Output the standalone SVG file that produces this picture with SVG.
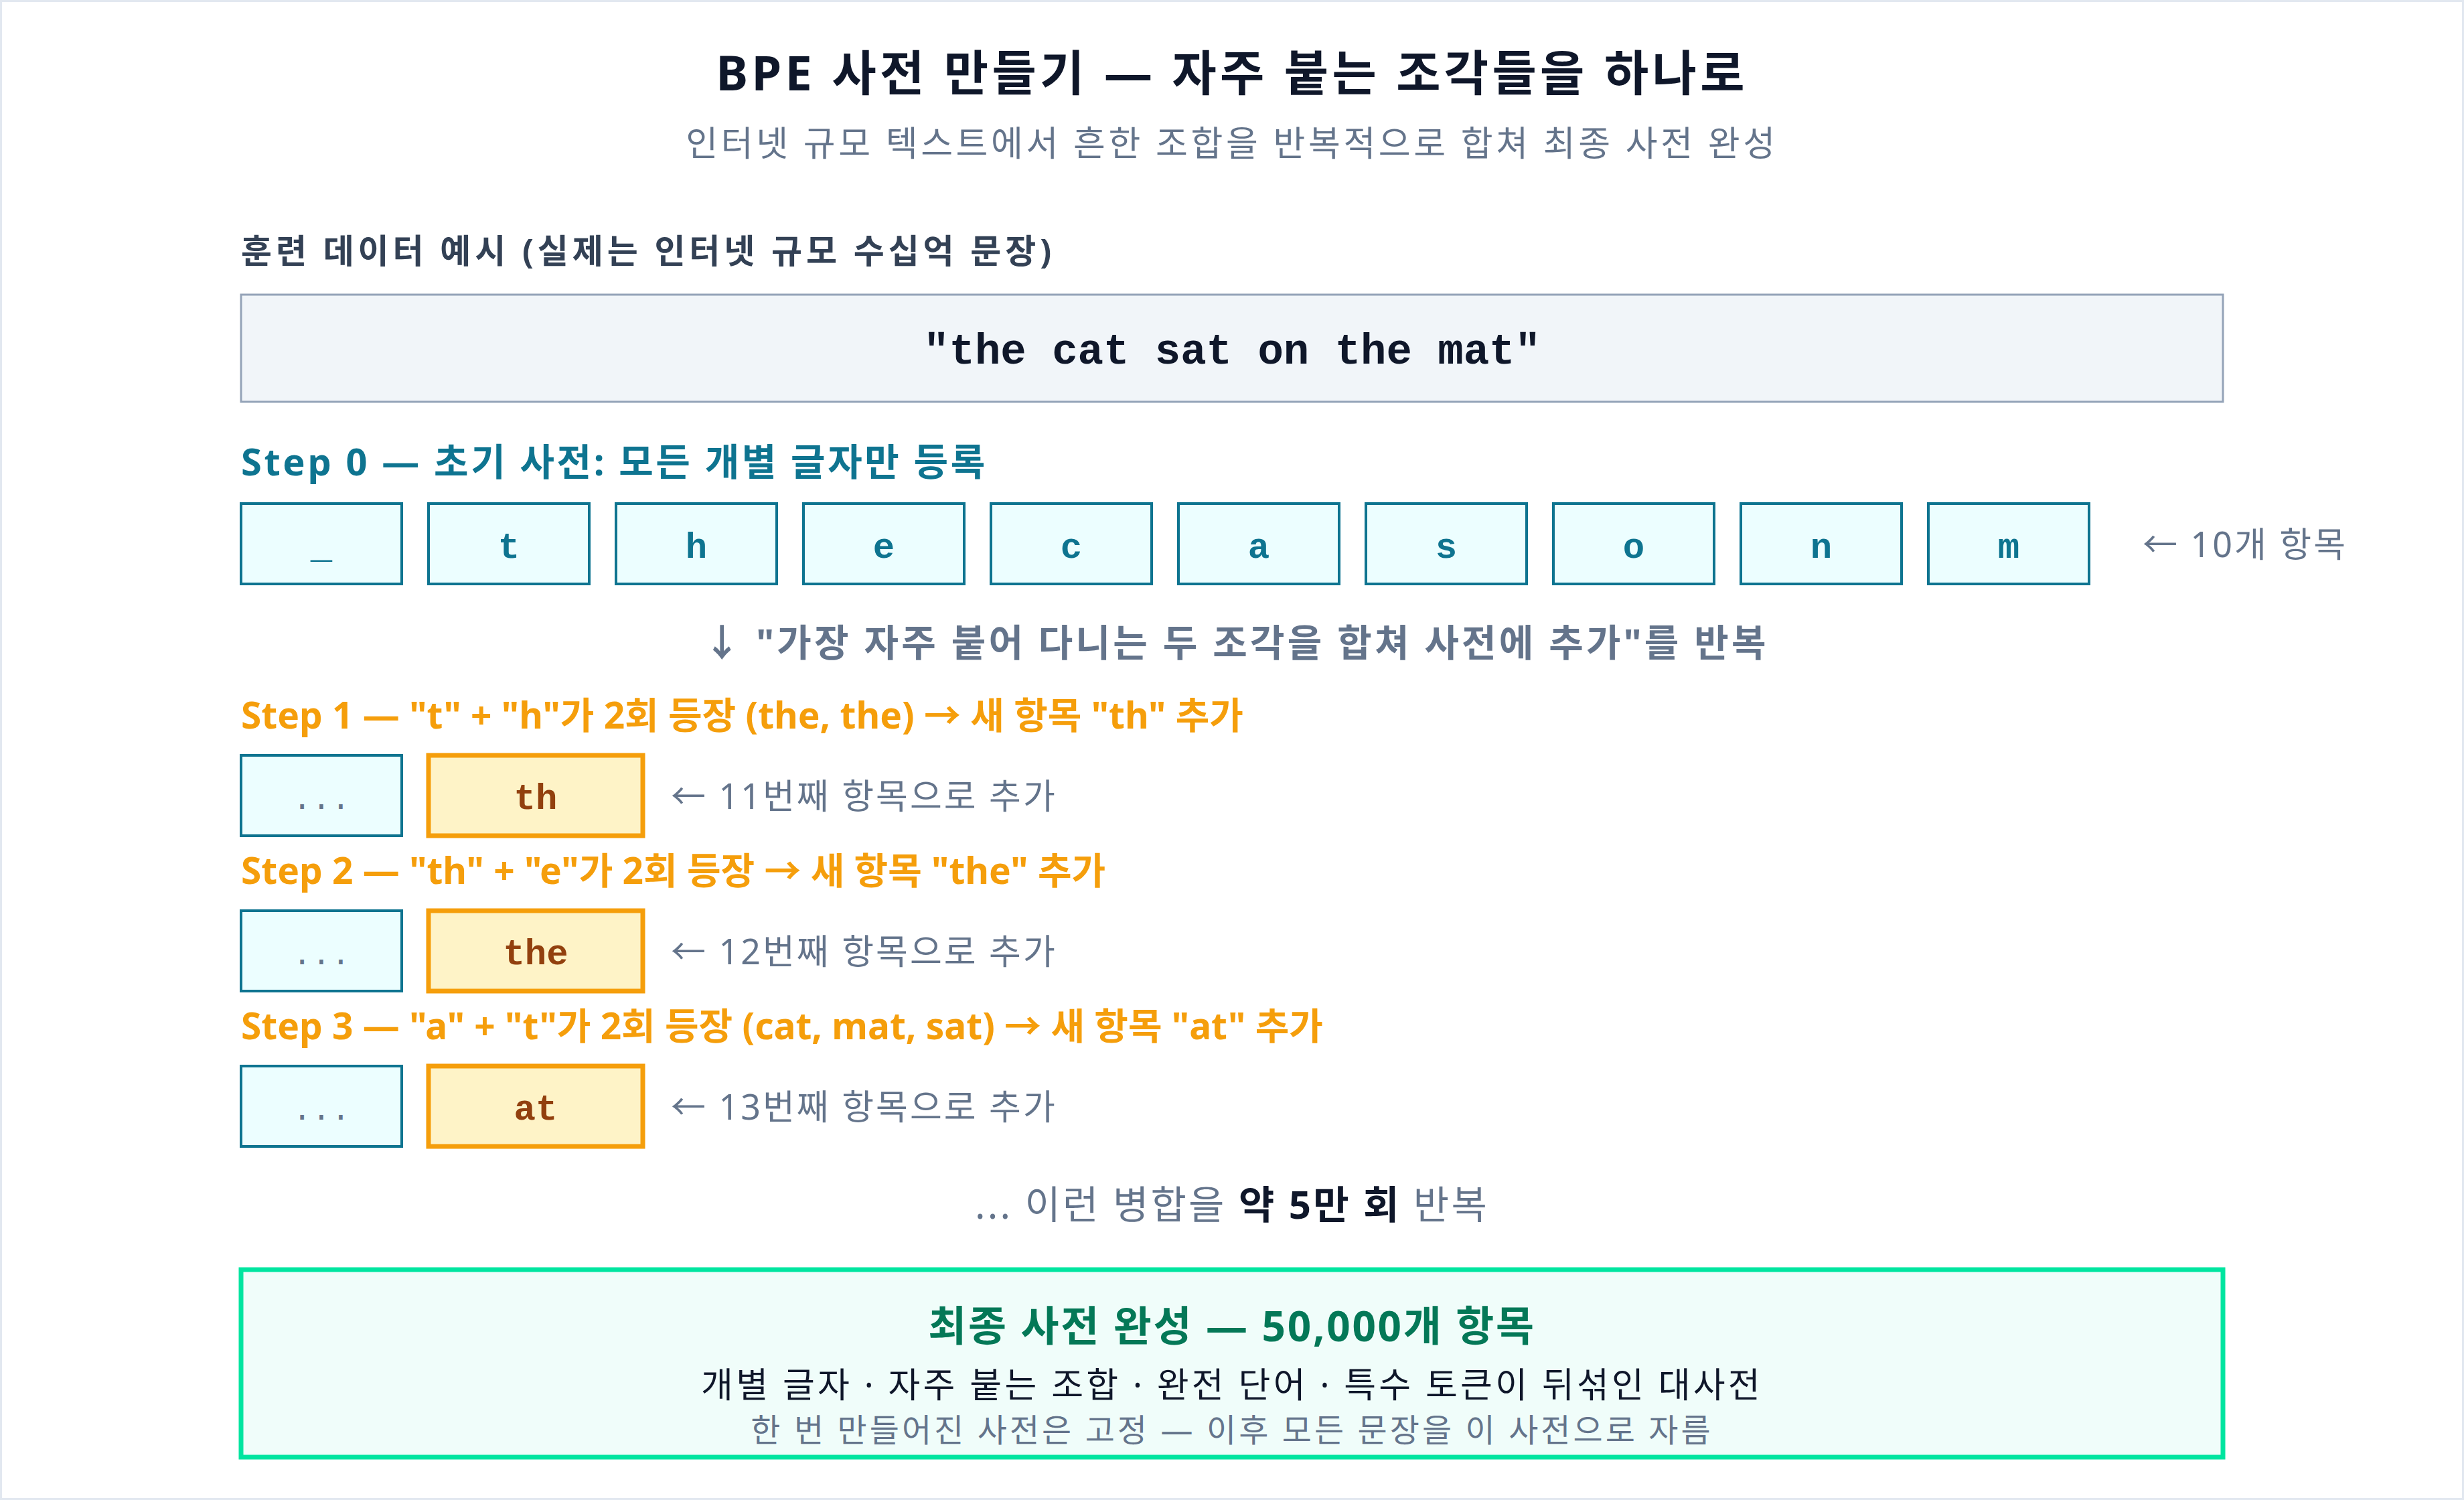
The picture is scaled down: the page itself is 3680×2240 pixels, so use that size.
<svg xmlns="http://www.w3.org/2000/svg" width="3680" height="2240" viewBox="0 0 3680 2240">
<style>
.sans{font-family:"Noto Sans","Noto Sans CJK KR",sans-serif}
.mono{font-family:"Liberation Mono","Noto Sans CJK KR",monospace}
.b{font-weight:700}
.title{font-size:72px;fill:#0f172a;font-weight:700;letter-spacing:5.4px}
.sub{font-size:52px;fill:#64748b;letter-spacing:4.6px}
.lbl{font-size:50px;fill:#334155;font-weight:700;letter-spacing:5.9px}
.step0{font-size:56px;fill:#0e7490;font-weight:700;letter-spacing:3.6px}
.stepn{font-size:55px;fill:#f59e0b;font-weight:700}
.note{font-size:52px;fill:#64748b;letter-spacing:3px}
.chr{stroke:#0e7490;stroke-width:4;fill:#ecfeff}
.chrt{font-size:54px;fill:#0e7490;font-weight:700}
.dots{font-size:48px;fill:#64748b}
.new{stroke:#f59e0b;stroke-width:7;fill:#fef3c7}
.newt{font-size:54px;fill:#92400e;font-weight:700}
</style>
<rect x="1.5" y="1.5" width="3677" height="2237" fill="#ffffff" stroke="#e2e8f0" stroke-width="3"/>
<g id="header">
<text class="sans title" x="1840" y="135" text-anchor="middle">BPE 사전 만들기 — 자주 붙는 조각들을 하나로</text>
<text class="sans sub" x="1840" y="233" text-anchor="middle">인터넷 규모 텍스트에서 흔한 조합을 반복적으로 합쳐 최종 사전 완성</text>
</g>
<g id="training-data">
<text class="sans lbl" x="360" y="393">훈련 데이터 예시 (실제는 인터넷 규모 수십억 문장)</text>
<rect x="360" y="440" width="2960" height="160" fill="#f1f5f9" stroke="#94a3b8" stroke-width="3"/>
<text class="mono b" x="1840" y="543" text-anchor="middle" font-size="64" fill="#0f172a">"the cat sat on the mat"</text>
</g>
<g id="step0">
<text class="sans step0" x="360" y="710">Step 0 — 초기 사전: 모든 개별 글자만 등록</text>
<rect class="chr" x="360" y="752" width="240" height="120"/>
<rect class="chr" x="640" y="752" width="240" height="120"/>
<rect class="chr" x="920" y="752" width="240" height="120"/>
<rect class="chr" x="1200" y="752" width="240" height="120"/>
<rect class="chr" x="1480" y="752" width="240" height="120"/>
<rect class="chr" x="1760" y="752" width="240" height="120"/>
<rect class="chr" x="2040" y="752" width="240" height="120"/>
<rect class="chr" x="2320" y="752" width="240" height="120"/>
<rect class="chr" x="2600" y="752" width="240" height="120"/>
<rect class="chr" x="2880" y="752" width="240" height="120"/>
<g class="mono chrt" text-anchor="middle">
<text x="480" y="833">_</text>
<text x="760" y="833">t</text>
<text x="1040" y="833">h</text>
<text x="1320" y="833">e</text>
<text x="1600" y="833">c</text>
<text x="1880" y="833">a</text>
<text x="2160" y="833">s</text>
<text x="2440" y="833">o</text>
<text x="2720" y="833">n</text>
<text x="3000" y="833">m</text>
</g>
<text class="sans note" x="3200" y="832">← 10개 항목</text>
</g>
<g id="repeat-rule">
<text class="sans b" x="1846" y="980" text-anchor="middle" font-size="56" fill="#64748b" letter-spacing="4.2">↓ "가장 자주 붙어 다니는 두 조각을 합쳐 사전에 추가"를 반복</text>
</g>
<g id="step1">
<text class="sans stepn" x="360" y="1088">Step 1 — "t" + "h"가 2회 등장 (the, the) → 새 항목 "th" 추가</text>
<rect class="chr" x="360" y="1128" width="240" height="120"/>
<text class="mono dots" x="480" y="1208" text-anchor="middle">...</text>
<rect class="new" x="640" y="1128" width="320" height="120"/>
<text class="mono newt" x="800" y="1208" text-anchor="middle">th</text>
<text class="sans note" x="1002" y="1208">← 11번째 항목으로 추가</text>
</g>
<g id="step2">
<text class="sans stepn" x="360" y="1320">Step 2 — "th" + "e"가 2회 등장 → 새 항목 "the" 추가</text>
<rect class="chr" x="360" y="1360" width="240" height="120"/>
<text class="mono dots" x="480" y="1440" text-anchor="middle">...</text>
<rect class="new" x="640" y="1360" width="320" height="120"/>
<text class="mono newt" x="800" y="1440" text-anchor="middle">the</text>
<text class="sans note" x="1002" y="1440">← 12번째 항목으로 추가</text>
</g>
<g id="step3">
<text class="sans stepn" x="360" y="1552">Step 3 — "a" + "t"가 2회 등장 (cat, mat, sat) → 새 항목 "at" 추가</text>
<rect class="chr" x="360" y="1592" width="240" height="120"/>
<text class="mono dots" x="480" y="1672" text-anchor="middle">...</text>
<rect class="new" x="640" y="1592" width="320" height="120"/>
<text class="mono newt" x="800" y="1672" text-anchor="middle">at</text>
<text class="sans note" x="1002" y="1672">← 13번째 항목으로 추가</text>
</g>
<g id="repeat-count">
<text class="sans" x="1840" y="1820" text-anchor="middle" font-size="58" fill="#64748b" letter-spacing="3.2">... 이런 병합을 <tspan font-weight="700" fill="#0f172a">약 5만 회</tspan> 반복</text>
</g>
<g id="final-dictionary">
<rect x="360" y="1896" width="2960" height="280" fill="#f0fdfa" stroke="#00e5a0" stroke-width="7"/>
<text class="sans b" x="1840" y="2003" text-anchor="middle" font-size="62" fill="#047857" letter-spacing="2.7">최종 사전 완성 — 50,000개 항목</text>
<text class="sans" x="1840" y="2087" text-anchor="middle" font-size="52" fill="#0f172a" letter-spacing="4.2">개별 글자 · 자주 붙는 조합 · 완전 단어 · 특수 토큰이 뒤섞인 대사전</text>
<text class="sans" x="1840" y="2153" text-anchor="middle" font-size="48" fill="#64748b" letter-spacing="4">한 번 만들어진 사전은 고정 — 이후 모든 문장을 이 사전으로 자름</text>
</g>
<g id="connectors"/>
</svg>
